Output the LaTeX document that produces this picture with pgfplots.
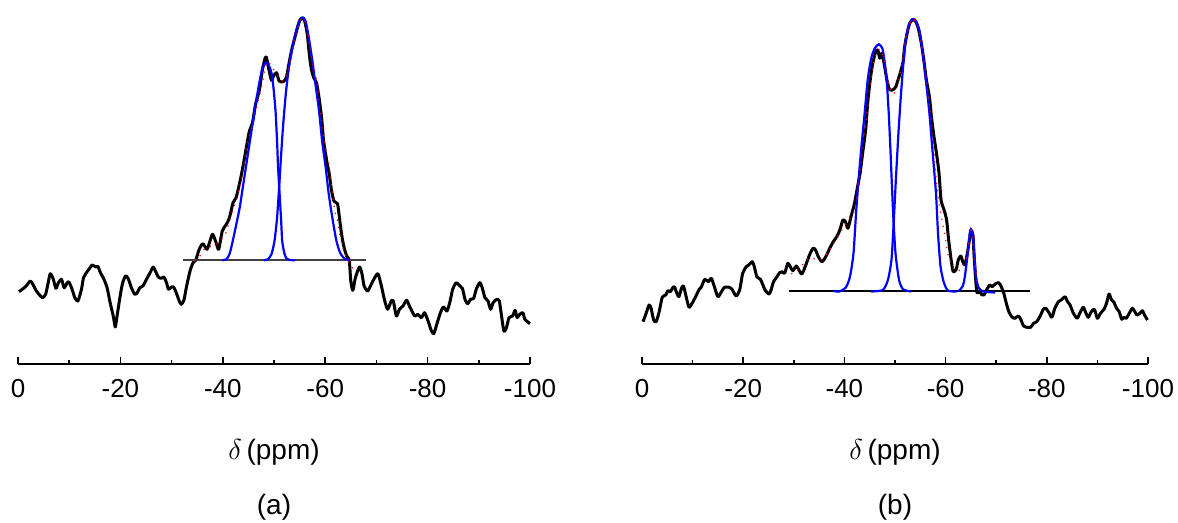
\documentclass[border=0pt]{standalone}
\usepackage{fontspec}
\setmainfont{Liberation Sans}
\usepackage{pgfplots}
\pgfplotsset{compat=1.18}
\begin{document}
\begin{tikzpicture}
\path[use as bounding box] (0,0) rectangle (589pt,261.5pt);
\pgfplotsset{nmr/.style={
  scale only axis, height=182pt,
  xmin=-100, xmax=0, ymin=0, ymax=364, x dir=reverse,
  axis x line*=bottom, hide y axis, clip=false,
  xtick={0,-20,-40,-60,-80,-100},
  xticklabels={0,-20,-40,-60,-80,-100},
  minor xtick={-10,-30,-50,-70,-90},
  tick align=inside, xtick pos=bottom,
  major tick length=3.4pt, minor tick length=2pt,
  every tick/.style={black, line width=0.8pt},
  x axis line style={line width=0.8pt},
  xticklabel style={font=\fontsize{13}{15}\selectfont, yshift=-4.2pt},
  anchor=south west,
}}
% ---------------- panel (a)
\begin{axis}[nmr, width=256pt, at={(9pt,79.5pt)}]
\addplot[black, line width=1.5pt, smooth, tension=0.4, line join=round] coordinates {
(-0.2,72.3)(-0.85,74.7)(-1.6,78)(-2.4,83)(-2.9,79.7)(-3.5,73.7)(-4.1,69.7)(-4.8,66.3)(-5.4,69.7)(-5.9,81.3)(-6.3,90.3)(-6.9,84.7)(-7.4,75.7)(-7.9,81.3)(-8.5,84.7)(-9.0,76.3)(-9.5,80.3)(-9.9,82.3)(-10.5,75.7)(-11.1,66.3)(-11.7,63)(-12.4,74.7)(-12.8,86.3)(-13.5,92.3)(-14.0,95.7)(-14.5,99)(-15.2,97)(-15.6,97.7)(-16.1,91.3)(-16.7,85.7)(-17.4,76.3)(-18.0,61.3)(-18.6,48)(-19.0,37)(-19.3,46.3)(-19.9,66.3)(-20.4,80.3)(-21.0,88)(-21.5,85.7)(-22.2,75.7)(-22.8,69.7)(-23.3,71.3)(-23.8,76.3)(-24.4,78)(-25.1,84.7)(-25.9,92.3)(-26.4,97)(-26.9,92.3)(-27.4,87)(-28.0,85.7)(-28.5,87)(-29.0,81.3)(-29.4,74.7)(-30.0,77)(-30.4,77)(-30.9,71.3)(-31.5,63)(-31.9,59.7)(-32.4,63.7)(-32.9,77)(-33.6,93)(-34.2,101.3)(-34.7,103.7)(-35.4,114.7)(-36.1,120.3)(-36.9,114.7)(-37.4,121.3)(-38.0,129.7)(-38.7,121.3)(-39.2,114.7)(-39.9,133)(-40.7,139.7)(-41.3,146.3)(-42.0,161.3)(-42.6,166.3)(-43.3,181.3)(-43.9,196.3)(-44.7,219.7)(-45.2,233)(-45.8,241.3)(-46.4,259.7)(-47.1,273)(-47.7,293)(-48.2,304.7)(-48.5,307)(-49.0,294.7)(-49.5,283.7)(-49.9,288)(-50.5,291.3)(-51.0,283)(-51.8,282.3)(-52.4,286.3)(-52.9,299.7)(-53.4,313)(-53.9,323)(-54.5,334.7)(-55.0,343)(-55.5,346.3)(-56.0,343)(-56.5,329.7)(-56.9,309.7)(-57.3,294.7)(-57.8,285.7)(-58.3,281.3)(-58.8,266.3)(-59.3,246.3)(-59.7,223)(-60.3,203)(-60.8,189.7)(-61.2,174.7)(-61.7,163)(-62.4,160.3)(-62.7,149.7)(-63.2,129.7)(-63.7,116.3)(-64.2,108)(-64.7,103.7)(-65.0,83)(-65.4,73.7)(-65.9,86.3)(-66.7,97)(-67.2,89.7)(-67.6,78)(-68.3,73)(-69.0,79.7)(-69.6,85.7)(-70.3,90.3)(-70.9,79.7)(-71.6,63.7)(-72.2,54.7)(-72.9,63)(-73.3,63)(-73.9,48)(-74.5,54.7)(-75.2,58)(-75.9,63.7)(-76.6,56.3)(-77.5,48)(-78.1,49.7)(-78.8,46.3)(-79.4,51.3)(-80.1,43)(-80.7,33.7)(-81.2,30.3)(-81.8,39.7)(-82.5,51.3)(-83.1,57)(-83.8,53)(-84.4,63)(-84.9,74.7)(-85.6,81.3)(-86.3,78)(-86.8,75.7)(-87.3,64.7)(-87.8,60.3)(-88.4,64.7)(-89.0,65.7)(-89.5,74.7)(-90.2,81.3)(-90.7,75.7)(-91.2,66.3)(-91.8,63)(-92.3,54.7)(-92.8,61.3)(-93.5,64.7)(-94.0,63)(-94.4,49.7)(-94.9,33)(-95.4,36.3)(-95.9,46.3)(-96.6,48)(-97.1,53.7)(-97.5,46.3)(-98.0,49.7)(-98.6,51.3)(-99.0,44.7)(-100.0,40.3)
};
\addplot[black!75, line width=0.6pt] coordinates {(-32.3,104)(-68,104)};
\addplot[blue, line width=1.1pt, smooth, tension=0.4] coordinates {
(-39.9,103.7)(-40.7,104.7)(-41.3,109.7)(-41.8,119.7)(-42.5,136.3)(-43.3,156.3)(-43.9,176.3)(-44.7,203)(-45.6,233)(-46.4,259.7)(-47.2,283)(-47.8,297)(-48.4,301.3)(-48.9,299.7)(-49.5,291.3)(-49.9,276.3)(-50.3,253)(-50.6,223)(-50.8,196.3)(-51.1,169.7)(-51.4,143)(-51.6,123)(-52.0,111.3)(-52.4,105.7)(-53.1,104)(-54.1,103.7)
};
\addplot[blue, line width=1.1pt, smooth, tension=0.4] coordinates {
(-48.0,103.7)(-48.8,104.7)(-49.5,109.7)(-50.1,123)(-50.6,146.3)(-51.0,176.3)(-51.4,209.7)(-51.8,239.7)(-52.3,269.7)(-52.9,296.3)(-53.7,319.7)(-54.5,336.3)(-55.1,344.7)(-55.7,346.3)(-56.2,342.3)(-56.8,326.3)(-57.5,303)(-58.1,279.7)(-58.8,253)(-59.4,223)(-60.1,196.3)(-60.7,169.7)(-61.5,143)(-62.2,123)(-62.9,111.3)(-63.7,105.7)(-64.8,103.7)
};
\addplot[red, line width=0.6pt, dash pattern=on 0.6pt off 3pt, smooth] coordinates {
(-34.5,103)(-35.3,106)(-36.4,115)(-37.3,117)(-38.9,120)(-40.1,127)(-40.8,134)(-42,155)(-42.6,163)(-43.9,191)(-44.7,220)(-45.9,240)(-46.9,263)(-47.8,283)(-48.6,302)(-49.5,298)(-50.5,290)(-51.8,283)(-53.1,300)(-54.3,330)(-55.5,346)(-56.5,335)(-57.3,306)(-58.3,286)(-58.9,260)(-59.6,230)(-60.3,210)(-60.8,198)(-61.4,170)(-61.9,153)(-62.5,141)(-62.8,131)(-63.2,121)(-63.8,111)(-64.8,100)(-65.5,95)
};
\end{axis}
% ---------------- panel (b)
\begin{axis}[nmr, width=253pt, at={(321pt,79.5pt)}]
\addplot[black, line width=1.5pt, smooth, tension=0.4, line join=round] coordinates {
(-0.2,42.3)(-0.7,49)(-1.4,59)(-1.8,55.7)(-2.3,44)(-2.8,42.3)(-3.4,52.3)(-4.0,66.7)(-4.7,69)(-5.1,73.3)(-5.6,72.3)(-6.0,75.7)(-6.4,77.3)(-6.9,70.7)(-7.3,67.3)(-7.8,75.7)(-8.2,78)(-8.8,65.7)(-9.3,56.7)(-9.9,60.7)(-10.6,67.3)(-11.3,74.7)(-11.7,76.7)(-12.4,84.7)(-13.1,82.3)(-13.7,85.7)(-14.3,77.3)(-15.0,67.3)(-15.7,72.3)(-16.3,76.7)(-17.2,76.7)(-17.8,74.7)(-18.6,68)(-19.3,74)(-19.9,90.7)(-20.6,97.3)(-21.1,99)(-21.8,102.3)(-22.2,97.3)(-22.7,87.3)(-23.4,84.7)(-23.9,79)(-24.4,73.3)(-25.1,70)(-25.5,74)(-26.0,82.3)(-26.6,86.7)(-27.2,91.3)(-27.7,92.3)(-28.2,90.7)(-28.8,100.7)(-29.3,97.3)(-29.8,93.3)(-30.5,98)(-31.0,94)(-31.6,90)(-32.3,98)(-33.1,109)(-33.8,115.7)(-34.3,114)(-34.9,106.7)(-35.6,102.3)(-36.4,108)(-37.0,114.7)(-37.8,122.3)(-38.5,127.3)(-39.1,134)(-39.7,144)(-40.2,142.3)(-40.7,135.7)(-41.3,147.3)(-42.0,160.7)(-42.6,177.3)(-43.1,190.7)(-43.6,210.7)(-44.2,234)(-44.6,260.7)(-45.1,284)(-45.6,300.7)(-46.2,312.3)(-46.6,314)(-47.0,305.7)(-47.4,310.7)(-47.9,299)(-48.4,284)(-48.9,274.7)(-49.5,274)(-50.1,276.7)(-50.6,284)(-51.1,292.3)(-51.6,302.3)(-51.9,317.3)(-52.4,330.7)(-52.9,340.7)(-53.6,344.7)(-54.1,342.3)(-54.6,335.7)(-55.2,320.7)(-55.7,304)(-56.2,284)(-56.8,267.3)(-57.2,247.3)(-57.7,227.3)(-58.2,210.7)(-58.7,190.7)(-59.1,164)(-59.7,154)(-60.2,144)(-60.6,124)(-61.1,104)(-61.5,92.3)(-62.1,94.7)(-62.5,104)(-63.0,108)(-63.4,102.3)(-63.8,99)(-64.3,110.7)(-64.7,124)(-65.0,134)(-65.4,129)(-65.6,110.7)(-65.9,87.3)(-66.2,71.3)(-66.7,72.3)(-67.2,69)(-67.6,69)(-68.1,74)(-68.7,79)(-69.2,77.3)(-69.8,80)(-70.5,81.3)(-71.0,77.3)(-71.5,70.7)(-72.0,60.7)(-72.5,52.3)(-73.1,47)(-73.7,45.7)(-74.4,48)(-74.9,44)(-75.4,38)(-76.0,36.7)(-76.8,36.7)(-77.4,40.7)(-78.0,42.3)(-78.7,48)(-79.3,54.7)(-79.8,55.7)(-80.5,50.7)(-81.0,46.7)(-81.6,55.7)(-82.3,62.3)(-82.9,64.3)(-83.6,67.3)(-84.1,62.3)(-84.6,59)(-85.2,51.3)(-86.0,45.7)(-86.5,50.7)(-87.2,56.7)(-87.7,51.3)(-88.2,46.7)(-88.8,52.3)(-89.4,54.7)(-90.0,45.7)(-90.6,50.7)(-91.3,54.7)(-91.8,60.7)(-92.3,70)(-92.8,64)(-93.2,62.3)(-93.8,55.7)(-94.3,52.3)(-94.8,44.7)(-95.2,46.7)(-95.7,45.7)(-96.3,50.7)(-96.9,55.7)(-97.4,52.3)(-97.8,49)(-98.4,50.7)(-98.9,53.3)(-99.3,49)(-99.9,44)
};
\addplot[black, line width=0.6pt] coordinates {(-29,73)(-76.6,73)};
\addplot[blue, line width=1.1pt, smooth, tension=0.4] coordinates {
(-37.8,73)(-39.0,72.5)(-40.3,76.7)(-41.1,87.3)(-41.8,110.7)(-42.3,150.7)(-42.8,184)(-43.3,214)(-44.0,250.7)(-44.6,284)(-45.3,305.7)(-46.0,315.7)(-46.8,319.7)(-47.5,315.7)(-47.9,304)(-48.4,280.7)(-48.8,247.3)(-49.1,214)(-49.4,177.3)(-49.7,144)(-50.1,110.7)(-50.8,84)(-51.6,74.7)(-53.2,72.5)
};
\addplot[blue, line width=1.1pt, smooth, tension=0.4] coordinates {
(-45.3,72.5)(-47.6,74)(-48.6,84)(-49.3,104)(-49.7,137.3)(-50.1,177.3)(-50.6,224)(-51.1,264)(-51.6,297.3)(-52.1,324)(-52.7,338)(-53.4,344.7)(-54.1,343.3)(-54.8,334)(-55.4,314)(-56.1,284)(-56.8,250.7)(-57.4,214)(-58.1,170.7)(-58.5,130.7)(-59.0,97.3)(-59.7,80.7)(-60.5,73.3)(-62.2,72.5)
};
\addplot[blue, line width=1.1pt, smooth, tension=0.4] coordinates {
(-62.5,72.5)(-63.4,78)(-63.8,87.3)(-64.3,107.3)(-64.7,127.3)(-65.0,134.7)(-65.4,129)(-65.7,107.3)(-66.0,87.3)(-66.5,76.7)(-67.4,72.5)(-69.8,71.5)
};
\addplot[red, line width=0.6pt, dash pattern=on 0.6pt off 3pt, smooth] coordinates {
(-29.5,90)(-31,95)(-33,106)(-35,104)(-36.5,110)(-37.8,120)(-39,130)(-40,138)(-41.5,148)(-42.3,160)(-43,188)(-44,230)(-45,275)(-46,306)(-47,315)(-48,302)(-48.8,280)(-49.5,270)(-50.3,275)(-51,290)(-52,322)(-53.4,345)(-54.5,336)(-55.5,310)(-56.9,257)(-57.5,227)(-58.3,177)(-59.2,147)(-60.1,121)(-60.5,109)(-61.5,96)(-62.5,93)(-63.5,100)(-64.3,110)(-65,134)(-65.7,107)(-66.3,80)
};
\end{axis}
% ---------------- labels
\node[font=\fontsize{14}{16}\selectfont] at (137pt,35.6pt) {$\delta$\,(ppm)};
\node[font=\fontsize{14}{16}\selectfont] at (447.5pt,35.6pt) {$\delta$\,(ppm)};
\node[font=\fontsize{14}{16}\selectfont] at (137pt,8pt) {(a)};
\node[font=\fontsize{14}{16}\selectfont] at (447.5pt,8pt) {(b)};
\end{tikzpicture}
\end{document}
